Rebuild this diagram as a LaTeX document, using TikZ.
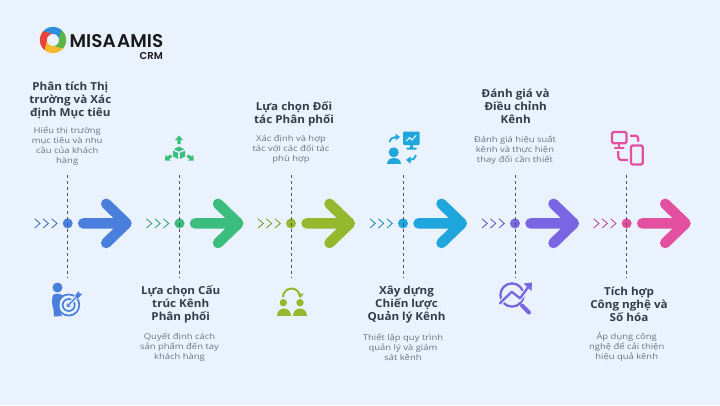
\documentclass[tikz,border=0pt]{standalone}
\usepackage{fontspec}
\usetikzlibrary{calc}
\setmainfont{Open Sans}
\newfontfamily\logofont{Poppins}[BoldFont={Poppins SemiBold}]
\newfontfamily\ttlfont{Open Sans}[FakeStretch=1.06]
\newfontfamily\dscfont{Open Sans}[FakeStretch=1.18]
\definecolor{bgc}{HTML}{EAF3FD}
\definecolor{cblue}{HTML}{4A7FDD}
\definecolor{cgreen}{HTML}{3BBD7E}
\definecolor{colive}{HTML}{94B92F}
\definecolor{ccyan}{HTML}{1FA6DC}
\definecolor{cpurple}{HTML}{7A65E2}
\definecolor{cpink}{HTML}{E2509F}
\definecolor{ink}{HTML}{343C4A}
\definecolor{soft}{HTML}{6B7480}
\definecolor{dashc}{HTML}{4C5560}
\definecolor{lgblue}{HTML}{2F8FD8}
\definecolor{lggreen}{HTML}{5DB544}
\definecolor{lgyellow}{HTML}{F4B92C}
\definecolor{lgred}{HTML}{E5443C}
\tikzset{
 ttl/.style={align=center,inner sep=0pt,text=ink,yshift=-1.5pt,font=\ttlfont\fontsize{11}{13}\selectfont\bfseries},
 dsc/.style={align=center,inner sep=0pt,text=soft,yshift=-1pt,font=\dscfont\fontsize{8}{10}\selectfont},
 dotn/.style={circle,inner sep=0pt,minimum size=10pt},
 guide/.style={draw=dashc,line width=0.9pt,dash pattern=on 3pt off 3pt},
 bigarrow/.style={line width=10.5pt,line cap=round,line join=round},
 chev/.style={line width=0.85pt,line join=miter},
 ic/.style={line cap=round,line join=round},
}
\begin{document}
\begin{tikzpicture}[x=1pt,y=-1pt]
\useasboundingbox (0,0) rectangle (720,405);
\fill[bgc] (0,0) rectangle (720,405);
% logo
\foreach \a/\c in {-140/lgblue,-50/lggreen,40/lgyellow,130/lgred}{
  \fill[\c] ($(53,40)+(\a:13.2)$) arc[start angle=\a,end angle=\a+92,radius=13.2]
     -- ($(53,40)+(\a+135:6.2)$) arc[start angle=\a+135,end angle=\a+43,radius=6.2] -- cycle;
}
\node[inner sep=0pt,anchor=base west,font=\logofont\bfseries\fontsize{18.4}{19}\selectfont,text=black!90] (logo) at (69.5,47) {MISA\kern1.5pt AMIS};
\node[inner sep=0pt,anchor=base east,font=\logofont\bfseries\fontsize{10}{12}\selectfont,text=black!90] (crm) at (163,59) {CRM};
% timeline stages
\foreach \x/\c/\n in {67.7/cblue/a,179.5/cgreen/b,291/colive/c,403/ccyan/d,515/cpurple/e,626.7/cpink/f}{
  \coordinate (top\n) at (\x,174.5);
  \coordinate (bot\n) at (\x,277);
  \node[dotn,fill=\c] (dot\n) at (\x,223.4) {};
  \draw[guide] (top\n) -- (bot\n);
  \foreach \o in {-33,-24.6,-16}{
    \draw[\c!85!black,chev] (\x+\o,218.8) -- (\x+\o+5.3,223.4) -- (\x+\o,228);
  }
  \coordinate (as\n) at (\x+15.5,223.4);
  \coordinate (at\n) at (\x+58.8,223.4);
  \draw[\c,bigarrow] (as\n) -- (at\n) (\x+38.5,203.8) -- (at\n) -- (\x+38.5,243);
}
% titles and descriptions
\node[ttl] (t1) at (70.3,99) {Phân tích Thị\\trường và Xác\\định Mục tiêu};
\node[dsc] (d1) at (67.2,145) {Hiểu thị trường\\mục tiêu và nhu\\cầu của khách\\hàng};
\node[ttl] (t2) at (180.7,303) {Lựa chọn Cấu\\trúc Kênh\\Phân phối};
\node[dsc] (d2) at (179.5,346) {Quyết định cách\\sản phẩm đến tay\\khách hàng};
\node[ttl] (t3) at (294,112.2) {Lựa chọn Đối\\tác Phân phối};
\node[dsc] (d3) at (291,148.7) {Xác định và hợp\\tác với các đối tác\\phù hợp};
\node[ttl] (t4) at (406.5,303) {Xây dựng\\Chiến lược\\Quản lý Kênh};
\node[dsc] (d4) at (403,346) {Thiết lập quy trình\\quản lý và giám\\sát kênh};
\node[ttl] (t5) at (515.7,105.3) {Đánh giá và\\Điều chỉnh\\Kênh};
\node[dsc] (d5) at (515,149) {Đánh giá hiệu suất\\kênh và thực hiện\\thay đổi cần thiết};
\node[ttl] (t6) at (629,303) {Tích hợp\\Công nghệ và\\Số hóa};
\node[dsc] (d6) at (626.7,346) {Áp dụng công\\nghệ để cải thiện\\hiệu quả kênh};
% icon 1: person and target
\fill[cblue] (57.5,287.5) circle[radius=5];
\fill[cblue] (53,295) .. controls (56,293) and (60,293.5) .. (63,295.5) .. controls (59,300) and (58,309) .. (62,316)
  -- (54,316.5) -- (53.5,309) .. controls (52,307) and (51.5,299) .. (53,295) -- cycle;
\draw[cblue,line width=1.7pt] (68.7,305) circle[radius=10.6];
\draw[cblue,line width=1.7pt] (68.7,305) circle[radius=6];
\fill[cblue] (68.7,305) circle[radius=2.2];
\draw[bgc,line width=3.5pt] (68.7,305) -- (78,295);
\draw[cblue,line width=1.3pt,ic] (68.7,305) -- (78,295);
\fill[cblue] (75.5,294.5) -- (79,291) -- (79.5,293.5) -- (82.5,293.5) -- (78.5,298) -- (76,297.5) -- cycle;
% icon 2: box with arrows
\fill[cgreen] (179,146.6) -- (184.3,149.2) -- (179,151.6) -- (173.7,149.2) -- cycle;
\fill[cgreen] (173,150.6) -- (178.2,153) -- (178.2,159) -- (173,156.4) -- cycle;
\fill[cgreen] (185,150.6) -- (179.8,153) -- (179.8,159) -- (185,156.4) -- cycle;
\fill[cgreen] (179,135.5) -- (183,140) -- (180.6,140) -- (180.6,144) -- (177.4,144) -- (177.4,140) -- (175,140) -- cycle;
\fill[cgreen] (165,160.5) -- (165.5,154.8) -- (167.2,156.5) -- (170.5,154.5) -- (172.3,157) -- (169,159) -- (170.7,160.6) -- cycle;
\fill[cgreen] (193.8,160.5) -- (193.3,154.8) -- (191.6,156.5) -- (188.3,154.5) -- (186.5,157) -- (189.8,159) -- (188.1,160.6) -- cycle;
% icon 3: people and circular arrow
\draw[colive,line width=2pt] (283,297) arc[start angle=180,end angle=360,radius=8.5] ;
\fill[colive] (297.5,293.5) -- (304,293.5) -- (300.5,297.8) -- cycle;
\fill[colive] (283.3,302.7) circle[radius=3.7];
\fill[colive] (300,302.7) circle[radius=3.7];
\fill[colive] (276.5,315.7) .. controls (276.5,305.5) and (290.8,305.5) .. (290.8,315.7) -- cycle;
\fill[colive] (293,315.7) .. controls (293,305.5) and (307,305.5) .. (307,315.7) -- cycle;
% icon 4: person, monitor, arrows
\fill[ccyan,rounded corners=1pt] (403,131.7) rectangle (419.7,145);
\draw[bgc,line width=1.1pt,ic] (406.5,141) -- (409.5,137.5) -- (412,140) -- (416,135.5);
\fill[ccyan] (410,145) rectangle (413,148);
\fill[ccyan,rounded corners=.5pt] (406.5,147.5) rectangle (416.5,149.5);
\fill[ccyan] (393.7,152.3) circle[radius=5];
\fill[ccyan] (387,164.3) .. controls (387,155.5) and (400.8,155.5) .. (400.8,164.3) -- cycle;
\draw[ccyan,line width=1.8pt] (389.7,142) .. controls (390,138.5) and (393,137) .. (396,137);
\fill[ccyan] (395.5,133.5) -- (400,137) -- (395.5,140.5) -- cycle;
\draw[ccyan,line width=1.8pt] (416,155) .. controls (416,158) and (413,160) .. (410,160);
\fill[ccyan] (410.5,156.5) -- (406,160) -- (410.5,163.5) -- cycle;
% icon 5: magnifier and trend
\draw[cpurple,line width=2.3pt] (512,295) circle[radius=11.6];
\draw[cpurple,line width=4pt,ic] (522,305.5) -- (529,312.5);
\draw[bgc,line width=4.5pt] (500,303.3) -- (511.7,291.7) -- (520,298.3) -- (528,287.5);
\draw[cpurple,line width=2.3pt,ic] (500,303.3) -- (511.7,291.7) -- (520,298.3) -- (529,286);
\fill[cpurple] (523.5,283.5) -- (532,282.5) -- (531.5,291) -- cycle;
% icon 6: devices
\draw[cpink,line width=2.3pt,rounded corners=1.5pt] (612,132) rectangle (626.5,143.2);
\draw[cpink,line width=2.3pt,ic] (619.2,143.2) -- (619.2,147.5) (615,147.8) -- (623.5,147.8);
\draw[cpink,line width=2.3pt,rounded corners=2pt] (631,145.5) rectangle (642.8,164.5);
\draw[cpink,line width=2.3pt,rounded corners=3pt] (630,135.7) -- (638.3,135.7) -- (638.3,141.7);
\draw[cpink,line width=2.3pt,rounded corners=3pt] (618.3,151) -- (618.3,160) -- (628,160);
\end{tikzpicture}
\end{document}
